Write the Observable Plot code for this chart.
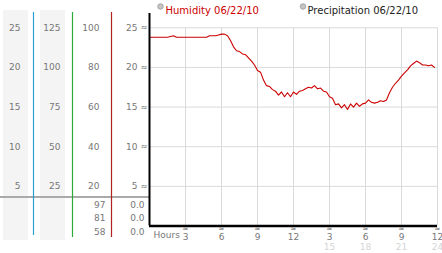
<!DOCTYPE html>
<html><head><meta charset="utf-8">
<script src="https://cdn.jsdelivr.net/npm/d3@7"></script>
<script src="https://cdn.jsdelivr.net/npm/@observablehq/plot@0.6"></script>
<style>body{margin:0;background:#fff} svg{display:block}</style>
</head><body><div id="chart"></div>
<script>
const hours = [0,0.25,0.5,0.75,1,1.25,1.5,1.75,2,2.25,2.5,2.75,3,3.25,3.5,3.75,4,4.25,4.5,4.75,
  5,5.25,5.5,5.75,6,6.25,6.5,6.75,7,7.25,7.5,7.75,8,8.25,8.5,8.75,9,9.25,9.5,9.75,
  10,10.25,10.5,10.75,11,11.25,11.5,11.75,12,12.25,12.5,12.75,13,13.25,13.5,13.75,14,14.25,14.5,14.75,
  15,15.25,15.5,15.75,16,16.25,16.5,16.75,17,17.25,17.5,17.75,18,18.25,18.5,18.75,19,19.25,19.5,19.75,
  20,20.25,20.5,20.75,21,21.25,21.5,21.75,22,22.25,22.5,22.75,23,23.25,23.5,23.75];
const humidity = [23.8,23.8,23.8,23.8,23.8,23.8,23.8,23.9,24.0,23.8,23.8,23.8,23.8,23.8,23.8,23.8,23.8,23.8,23.8,23.8,
  24.0,24.0,24.0,24.1,24.2,24.2,24.0,23.4,22.6,22.1,22.0,21.7,21.6,21.2,20.8,20.3,19.6,19.4,18.4,17.7,
  17.6,17.2,17.0,16.5,16.9,16.3,16.8,16.3,16.9,16.6,17.0,17.1,17.3,17.5,17.4,17.7,17.3,17.4,17.0,16.9,
  16.3,16.1,15.3,15.4,14.9,15.3,14.7,15.4,15.0,15.5,15.1,15.4,15.5,15.9,15.6,15.5,15.6,15.8,15.7,15.9,
  16.8,17.5,18.0,18.4,18.9,19.3,19.7,20.2,20.5,20.8,20.6,20.3,20.3,20.2,20.3,20.0];
const leftTicks = [5,10,15,20,25];
const xTicks = [3,6,9,12,15,18,21,24];
const xTicks2 = [15,18,21,24];
const humidityReadings = [97,81,58];
const precipReadings = [0,0,0];
const legendLabels = ["Humidity 06/22/10","Precipitation 06/22/10"];

const data = hours.map((h,i)=>({h, v: humidity[i]}));
const gray = "#777";
const red = "#cc0000";

const chart = Plot.plot({
  width: 442, height: 253,
  marginLeft: 149, marginRight: 5, marginTop: 13, marginBottom: 27.5,
  style: {fontFamily: "DejaVu Sans", fontSize: "9px", background: "transparent", color: gray},
  x: {domain: [0,24], axis: null},
  y: {domain: [0,26.8], axis: null},
  marks: [
    Plot.gridY(leftTicks, {stroke: "#dadada", strokeOpacity: 1}),
    Plot.gridX(xTicks, {stroke: "#dadada", strokeOpacity: 1, y1: 0, y2: 25}),
    Plot.axisY(leftTicks, {anchor: "left", tickSize: 0, tickPadding: 12, fill: gray, label: null}),
    Plot.axisY(leftTicks, {anchor: "left", tickSize: 0, tickPadding: 50, fill: gray, label: null, tickFormat: d => String(d*4)}),
    Plot.axisY(leftTicks, {anchor: "left", tickSize: 0, tickPadding: 89, fill: gray, label: null, tickFormat: d => String(d*5)}),
    Plot.axisY(leftTicks, {anchor: "left", tickSize: 0, tickPadding: 129, fill: gray, label: null, tickFormat: d => String(d)}),
    Plot.axisY(leftTicks, {anchor: "left", tickSize: 0, tickPadding: 2, fill: "#666", label: null, fontSize: 8, tickFormat: () => "≈"}),
    Plot.axisX(xTicks, {anchor: "bottom", tickSize: 0, tickPadding: 0, fill: "#666", label: null, fontSize: 7, tickFormat: () => "≈"}),
    Plot.axisX(xTicks, {anchor: "bottom", tickSize: 0, tickPadding: 8, fill: gray, label: null, tickFormat: d => String(d % 12 === 0 ? 12 : d % 12)}),
    Plot.axisX(xTicks2, {anchor: "bottom", tickSize: 0, tickPadding: 18, fill: "#d4d4d4", label: null, tickFormat: d => String(d)}),
    Plot.text(["Hours"], {text: d => d, frameAnchor: "bottom-left", dx: 4, dy: 11.5, textAnchor: "start", fill: gray}),
    Plot.text([humidityReadings.join("\n")], {text: d => d, frameAnchor: "bottom-left", dx: -44, dy: -28, textAnchor: "end", lineAnchor: "top", lineHeight: 1.5, fill: gray}),
    Plot.text([precipReadings.map(d => d.toFixed(1)).join("\n")], {text: d => d, frameAnchor: "bottom-left", dx: -5, dy: -28, textAnchor: "end", lineAnchor: "top", lineHeight: 1.5, fill: gray}),
    Plot.line(data, {x: "h", y: "v", stroke: red, strokeWidth: 1.1}),
    Plot.ruleY([0], {stroke: "black", strokeWidth: 2.5}),
    Plot.ruleX([0], {stroke: "black", strokeWidth: 2}),
    Plot.dot([legendLabels[0]], {frameAnchor: "top-left", dx: 11, dy: -7, r: 2.8, fill: "#c4c4c4", stroke: "#999", strokeWidth: 0.8}),
    Plot.text([legendLabels[0]], {text: d => d, frameAnchor: "top-left", dx: 16, dy: -7, textAnchor: "start", fill: red, fontSize: 10}),
    Plot.dot([legendLabels[1]], {frameAnchor: "top-left", dx: 153.5, dy: -7, r: 2.8, fill: "#c4c4c4", stroke: "#999", strokeWidth: 0.8}),
    Plot.text([legendLabels[1]], {text: d => d, frameAnchor: "top-left", dx: 158, dy: -7, textAnchor: "start", fill: "#222", fontSize: 10})
  ]
});
document.getElementById("chart").appendChild(chart);

// left panel decorations
const svg = d3.select(chart);
const g = svg.insert("g", ":first-child");
g.append("rect").attr("x", 3).attr("y", 10).attr("width", 25).attr("height", 230).attr("fill", "#f4f4f4");
g.append("rect").attr("x", 40).attr("y", 10).attr("width", 25).attr("height", 230).attr("fill", "#f4f4f4");
g.append("line").attr("x1", 0).attr("x2", 149).attr("y1", 197).attr("y2", 197).attr("stroke", "#aaa").attr("stroke-width", 2);
[[33.5, "#2b9fd0", 235], [72.5, "#2eaa3a", 237], [111.5, "#b22222", 237]].forEach(([x, c, y2]) => {
  g.append("line").attr("x1", x).attr("x2", x).attr("y1", 12).attr("y2", y2).attr("stroke", c).attr("stroke-width", 1.2);
});
</script></body></html>
